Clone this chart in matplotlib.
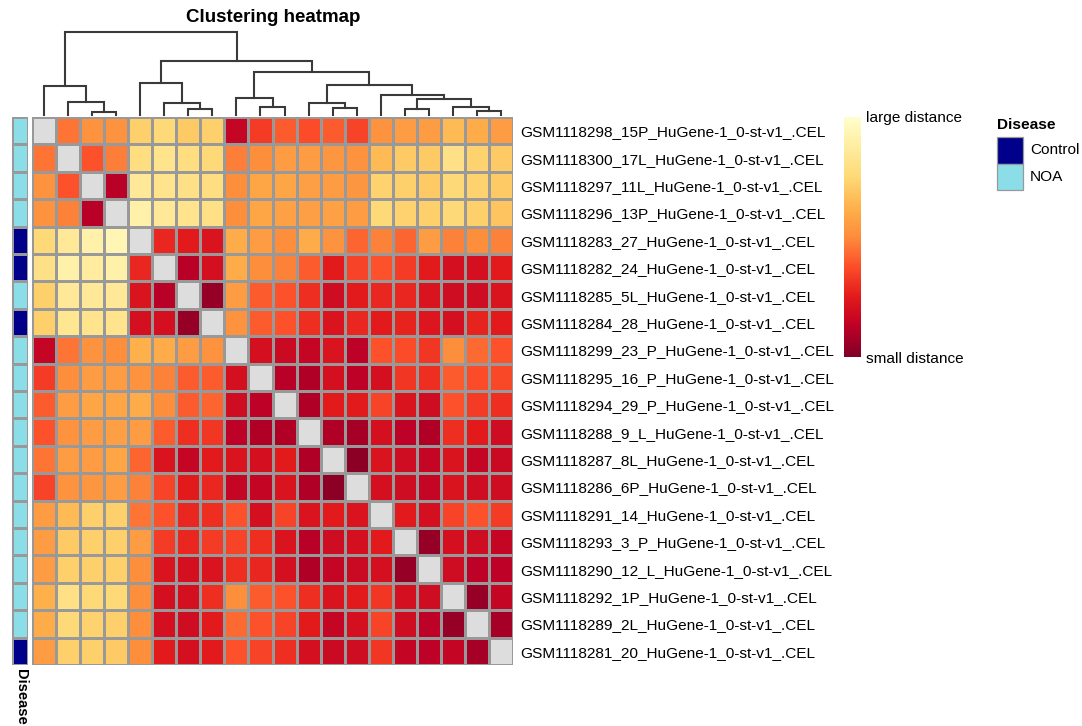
import numpy as np
import matplotlib
matplotlib.use("Agg")
import matplotlib.pyplot as plt
from matplotlib.colors import ListedColormap
from matplotlib.patches import Rectangle

plt.rcParams['font.family'] = ['Liberation Sans', 'DejaVu Sans']

# sample names in clustered order (rows == columns)
samples = [
    "GSM1118298_15P_HuGene-1_0-st-v1_.CEL",
    "GSM1118300_17L_HuGene-1_0-st-v1_.CEL",
    "GSM1118297_11L_HuGene-1_0-st-v1_.CEL",
    "GSM1118296_13P_HuGene-1_0-st-v1_.CEL",
    "GSM1118283_27_HuGene-1_0-st-v1_.CEL",
    "GSM1118282_24_HuGene-1_0-st-v1_.CEL",
    "GSM1118285_5L_HuGene-1_0-st-v1_.CEL",
    "GSM1118284_28_HuGene-1_0-st-v1_.CEL",
    "GSM1118299_23_P_HuGene-1_0-st-v1_.CEL",
    "GSM1118295_16_P_HuGene-1_0-st-v1_.CEL",
    "GSM1118294_29_P_HuGene-1_0-st-v1_.CEL",
    "GSM1118288_9_L_HuGene-1_0-st-v1_.CEL",
    "GSM1118287_8L_HuGene-1_0-st-v1_.CEL",
    "GSM1118286_6P_HuGene-1_0-st-v1_.CEL",
    "GSM1118291_14_HuGene-1_0-st-v1_.CEL",
    "GSM1118293_3_P_HuGene-1_0-st-v1_.CEL",
    "GSM1118290_12_L_HuGene-1_0-st-v1_.CEL",
    "GSM1118292_1P_HuGene-1_0-st-v1_.CEL",
    "GSM1118289_2L_HuGene-1_0-st-v1_.CEL",
    "GSM1118281_20_HuGene-1_0-st-v1_.CEL",
]

disease = ["NOA", "NOA", "NOA", "NOA", "Control", "Control", "NOA", "Control",
           "NOA", "NOA", "NOA", "NOA", "NOA", "NOA", "NOA", "NOA", "NOA", "NOA",
           "NOA", "Control"]
disease_levels = ["Control", "NOA"]
disease_colors = ["#00008B", "#8BDDE8"]

# scaled sample distances (0 = small, 1 = large), diagonal is NA
dist = [
    [np.nan, .45, .52, .52, .72, .75, .70, .72, .15, .33, .40, .37, .40, .35, .52, .55, .55, .65, .60, .55],
    [.45, np.nan, .38, .47, .78, .82, .78, .75, .47, .50, .55, .55, .53, .52, .65, .70, .70, .80, .73, .70],
    [.52, .38, np.nan, .12, .85, .82, .80, .78, .50, .58, .58, .56, .55, .53, .73, .72, .70, .75, .73, .70],
    [.52, .48, .12, np.nan, .90, .85, .82, .80, .50, .58, .57, .56, .57, .55, .75, .73, .72, .75, .72, .68],
    [.75, .85, .90, .93, np.nan, .28, .25, .22, .60, .55, .50, .60, .52, .42, .48, .42, .55, .48, .50, .48],
    [.80, .90, .87, .90, .28, np.nan, .12, .20, .60, .50, .48, .40, .25, .35, .38, .33, .25, .20, .20, .25],
    [.72, .85, .85, .85, .22, .12, np.nan, .05, .55, .40, .38, .30, .18, .25, .28, .28, .22, .18, .18, .22],
    [.72, .83, .82, .82, .20, .20, .05, np.nan, .52, .40, .38, .30, .22, .28, .25, .27, .23, .20, .27, .25],
    [.15, .45, .52, .50, .62, .60, .55, .52, np.nan, .20, .17, .15, .22, .13, .38, .37, .32, .50, .43, .38],
    [.33, .50, .55, .55, .52, .48, .40, .40, .20, np.nan, .12, .10, .20, .13, .20, .32, .30, .40, .37, .36],
    [.40, .55, .58, .58, .60, .50, .40, .42, .18, .13, np.nan, .10, .25, .25, .35, .22, .18, .38, .33, .30],
    [.38, .52, .55, .56, .55, .40, .30, .32, .13, .10, .10, np.nan, .10, .08, .20, .13, .10, .30, .25, .18],
    [.45, .55, .55, .58, .42, .22, .15, .25, .22, .20, .25, .10, np.nan, .03, .22, .18, .15, .22, .15, .17],
    [.35, .52, .53, .55, .48, .35, .25, .28, .15, .15, .22, .10, .03, np.nan, .20, .18, .15, .22, .18, .18],
    [.55, .65, .72, .72, .45, .38, .28, .30, .38, .20, .35, .22, .25, .22, np.nan, .25, .20, .35, .38, .33],
    [.55, .70, .72, .72, .55, .33, .28, .33, .35, .30, .22, .12, .18, .20, .25, np.nan, .05, .20, .18, .15],
    [.55, .72, .72, .72, .50, .22, .20, .22, .30, .28, .20, .10, .15, .17, .20, .05, np.nan, .18, .13, .13],
    [.62, .80, .75, .75, .50, .20, .20, .30, .50, .40, .38, .30, .22, .25, .32, .20, .18, np.nan, .05, .15],
    [.60, .75, .73, .72, .50, .20, .18, .25, .43, .38, .35, .25, .15, .20, .35, .18, .13, .05, np.nan, .08],
    [.55, .72, .72, .70, .50, .25, .20, .25, .38, .35, .30, .20, .17, .18, .32, .15, .13, .15, .08, np.nan],
]

# column dendrogram: (left node, right node, height); leaves are 0..19,
# merged clusters get ids 20, 21, ... in order
merges = [
    (2, 3, 3.3), (1, 20, 13.3), (0, 21, 29.0),
    (6, 7, 5.7), (5, 23, 11.7), (4, 24, 32.3),
    (9, 10, 8.3), (8, 26, 16.7),
    (12, 13, 7.3), (11, 28, 12.3),
    (15, 16, 5.7), (18, 19, 4.3), (17, 31, 8.3), (30, 32, 15.7), (14, 33, 20.0),
    (29, 34, 30.0), (27, 35, 42.7), (25, 36, 54.0), (22, 37, 83.3),
]

W, H = 1082, 726
fig = plt.figure(figsize=(W / 100, H / 100), dpi=100)


def px_axes(x0, y0, x1, y1):
    return fig.add_axes([x0 / W, 1 - y1 / H, (x1 - x0) / W, (y1 - y0) / H])


n = len(samples)
cmap = plt.get_cmap("YlOrRd_r").copy()
cmap.set_bad("#DDDDDD")
grid = "#999999"

# heatmap
ax = px_axes(32, 117, 513, 665)
mat = np.ma.masked_invalid(np.array(dist))
ax.pcolormesh(mat, cmap=cmap, vmin=0, vmax=1, edgecolors=grid, linewidth=0.9)
ax.set_xlim(0, n)
ax.set_ylim(n, 0)
ax.set_xticks([])
ax.yaxis.tick_right()
ax.set_yticks(np.arange(n) + 0.5)
ax.set_yticklabels(samples, fontsize=11.1)
ax.tick_params(axis="y", length=0, pad=5)
for s in ax.spines.values():
    s.set_visible(False)

# disease annotation column
ax_a = px_axes(12, 117, 28, 665)
codes = np.array([[disease_levels.index(d)] for d in disease])
ax_a.pcolormesh(codes, cmap=ListedColormap(disease_colors), vmin=-0.5, vmax=1.5,
                edgecolors=grid, linewidth=0.9)
ax_a.set_ylim(n, 0)
ax_a.axis("off")
fig.text(14 / W, 1 - 669 / H, "Disease", rotation=270, fontsize=10.5,
         fontweight="bold", ha="left", va="top")

# dendrogram
ax_d = px_axes(32, 31.7, 513, 115)
xpos = {i: i + 0.5 for i in range(n)}
hpos = {i: 0.0 for i in range(n)}
for k, (a, b, h) in enumerate(merges):
    xa, xb = xpos[a], xpos[b]
    ax_d.plot([xa, xa, xb, xb], [hpos[a], h, h, hpos[b]], color="#3a3a3a", lw=1.5,
              solid_joinstyle="miter")
    xpos[n + k] = (xa + xb) / 2
    hpos[n + k] = h
ax_d.set_xlim(0, n)
ax_d.set_ylim(0, max(m[2] for m in merges))
ax_d.axis("off")
for ln in ax_d.lines:
    ln.set_clip_on(False)

# title
fig.text(273 / W, 1 - 18 / H, "Clustering heatmap", fontsize=13.5,
         fontweight="bold", ha="center", va="center")

# colour key
ax_c = px_axes(844, 117, 861, 357)
ax_c.imshow(np.linspace(0, 1, 256)[:, None], cmap=cmap, aspect="auto",
            origin="lower", extent=[0, 1, 0, 1])
ax_c.axis("off")
fig.text(866 / W, 1 - 118 / H, "large distance", fontsize=11.1, ha="left", va="center")
fig.text(866 / W, 1 - 359 / H, "small distance", fontsize=11.1, ha="left", va="center")

# disease legend
ax_l = px_axes(0, 0, W, H)
ax_l.set_xlim(0, W)
ax_l.set_ylim(H, 0)
ax_l.axis("off")
ax_l.text(997, 125, "Disease", fontsize=11.1, fontweight="bold", ha="left", va="center")
for i, (lab, col) in enumerate(zip(disease_levels, disease_colors)):
    y0 = 137 + i * 26.5
    ax_l.add_patch(Rectangle((997, y0), 26, 26.5, facecolor=col, edgecolor=grid, lw=0.9))
    ax_l.text(1030, y0 + 13.5, lab, fontsize=11.1, ha="left", va="center")

fig.savefig("out.png", dpi=100)
